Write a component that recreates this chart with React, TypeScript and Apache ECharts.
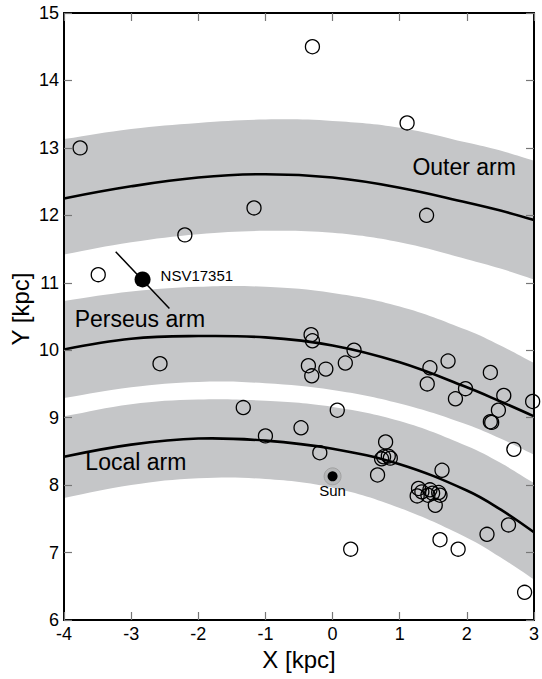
import React, { useEffect, useRef } from "react";
import * as echarts from "echarts";

// Axis ranges / ticks
const xMin = -4;
const xMax = 3;
const yMin = 6;
const yMax = 15;
const tickStep = 1;

// Spiral arm geometry
const armX = [-4, -3, -2, -1, 0, 1, 2, 2.5, 3];
const outerCenter = [12.25, 12.43, 12.56, 12.61, 12.56, 12.41, 12.19, 12.07, 11.93];
const outerUpper = [13.13, 13.28, 13.37, 13.42, 13.4, 13.3, 13.08, 12.96, 12.81];
const outerLower = [11.42, 11.6, 11.72, 11.77, 11.74, 11.6, 11.35, 11.21, 11.05];
const perseusCenter = [10.01, 10.17, 10.21, 10.19, 10.07, 9.82, 9.45, 9.24, 9.02];
const perseusUpper = [10.73, 10.87, 10.94, 10.94, 10.85, 10.65, 10.3, 10.07, 9.81];
const perseusLower = [9.29, 9.45, 9.53, 9.51, 9.41, 9.21, 8.9, 8.69, 8.45];
const localCenter = [8.42, 8.6, 8.69, 8.66, 8.54, 8.31, 7.92, 7.64, 7.3];
const localUpper = [9.02, 9.2, 9.27, 9.25, 9.16, 8.95, 8.58, 8.33, 8.03];
const localLower = [7.81, 8.0, 8.1, 8.09, 7.96, 7.66, 7.22, 6.93, 6.6];

// Sources (open circles)
const srcX = [
  -0.3, 1.11, -3.76, -1.17, -2.2, 1.4, -3.49,
  -0.32, -0.3, 0.32, -2.57, -0.36, -0.31, -0.1, 0.19, 1.45, 1.41, 1.72, 1.98, 1.83,
  2.35, 2.55, 2.47, 2.35, 2.37, 2.98, 2.7,
  -1.33, 0.07, -1.0, -0.47, -0.19, 0.79, 0.76, 0.83, 0.86, 0.73, 0.67, 1.63,
  1.28, 1.26, 1.33, 1.45, 1.49, 1.58, 1.6, 1.53, 1.42,
  1.6, 1.87, 0.27, 2.3, 2.62, 2.86,
];
const srcY = [
  14.5, 13.37, 13.0, 12.11, 11.71, 12.0, 11.12,
  10.23, 10.14, 10.0, 9.8, 9.77, 9.62, 9.72, 9.81, 9.74, 9.5, 9.84, 9.43, 9.28,
  9.67, 9.33, 9.11, 8.94, 8.93, 9.24, 8.53,
  9.15, 9.11, 8.73, 8.85, 8.48, 8.64, 8.42, 8.43, 8.4, 8.39, 8.15, 8.22,
  7.95, 7.84, 7.9, 7.93, 7.88, 7.89, 7.85, 7.7, 7.85,
  7.19, 7.05, 7.05, 7.27, 7.41, 6.41,
];

// Sun
const sunX = [0];
const sunY = [8.13];

// NSV17351 and its error segment
const nsvX = [-2.83];
const nsvY = [11.05];
const nsvBarX = [-3.23, -2.43];
const nsvBarY = [11.46, 10.62];

// Arm labels
const armLabelNames = ["Outer arm", "Perseus arm", "Local arm"];
const armLabelX = [1.96, -2.87, -2.93];
const armLabelY = [12.71, 10.47, 8.35];

const FONT = "'Liberation Sans', Arial, Helvetica, sans-serif";
const GRAY = "#c5c6c8";
const SMOOTH = 0.4;

const zip = (xs: number[], ys: number[]) => xs.map((x, i) => [x, ys[i]]);

// Band polygon between upper and lower edge, built through the axis scales.
const bandSeries = (upper: number[], lower: number[]) => ({
  type: "custom",
  coordinateSystem: "cartesian2d",
  data: [[armX[0], upper[0]]],
  silent: true,
  z: 1,
  renderItem: (_params: any, api: any) => {
    const top = armX.map((x, i) => api.coord([x, upper[i]]));
    const bot = armX.map((x, i) => api.coord([x, lower[i]])).reverse();
    const n = top.length;
    // duplicate the four corners so the smoothed outline keeps sharp corners
    const pts = [top[0], ...top, top[n - 1], bot[0], ...bot, bot[n - 1]];
    return {
      type: "polygon",
      shape: { points: pts, smooth: SMOOTH },
      style: { fill: GRAY, stroke: "none" },
    };
  },
});

const centerSeries = (ys: number[]) => ({
  type: "custom",
  coordinateSystem: "cartesian2d",
  data: [[armX[0], ys[0]]],
  silent: true,
  z: 2,
  renderItem: (_params: any, api: any) => {
    const pts = armX.map((x, i) => api.coord([x, ys[i]]));
    return {
      type: "polyline",
      shape: { points: pts, smooth: SMOOTH },
      style: { fill: "none", stroke: "#000", lineWidth: 2.6 },
    };
  },
});

export default function App() {
  const ref = useRef<HTMLDivElement>(null);

  useEffect(() => {
    if (!ref.current) return;
    const chart = echarts.init(ref.current, undefined, { renderer: "svg" });

    const axisCommon = {
      interval: tickStep,
      axisLine: { show: true, onZero: false, lineStyle: { color: "#000", width: 2 } },
      axisTick: { show: true, inside: true, length: 8, lineStyle: { color: "#777", width: 1.2 } },
      splitLine: { show: false },
      z: 10,
    };

    chart.setOption({
      animation: false,
      backgroundColor: "#fff",
      textStyle: { fontFamily: FONT },
      grid: { left: 64, right: 6, top: 13, bottom: 59, containLabel: false },
      xAxis: [
        {
          ...axisCommon,
          type: "value",
          position: "bottom",
          min: xMin,
          max: xMax,
          axisLabel: { show: true, fontSize: 18, color: "#000", margin: 5, fontFamily: FONT },
          name: "X [kpc]",
          nameLocation: "middle",
          nameGap: 16,
          nameTextStyle: { fontSize: 24, color: "#000", fontFamily: FONT },
        },
        {
          ...axisCommon,
          type: "value",
          position: "top",
          min: xMin,
          max: xMax,
          axisLabel: { show: false },
        },
      ],
      yAxis: [
        {
          ...axisCommon,
          type: "value",
          position: "left",
          min: yMin,
          max: yMax,
          axisLabel: { show: true, fontSize: 18, color: "#000", margin: 5, fontFamily: FONT },
        },
        {
          ...axisCommon,
          type: "value",
          position: "right",
          min: yMin,
          max: yMax,
          axisLabel: { show: false },
        },
      ],
      graphic: [
        {
          type: "text",
          x: 20,
          y: 309,
          rotation: Math.PI / 2,
          style: {
            text: "Y [kpc]",
            fontSize: 24,
            fontFamily: FONT,
            fill: "#000",
            align: "center",
            verticalAlign: "middle",
          },
        },
      ],
      series: [
        bandSeries(outerUpper, outerLower),
        bandSeries(perseusUpper, perseusLower),
        bandSeries(localUpper, localLower),
        centerSeries(outerCenter),
        centerSeries(perseusCenter),
        centerSeries(localCenter),
        {
          type: "scatter",
          z: 5,
          data: zip(srcX, srcY),
          symbol: "circle",
          symbolSize: 14,
          silent: true,
          itemStyle: { color: "rgba(0,0,0,0)", borderColor: "#000", borderWidth: 1.3, opacity: 1 },
        },
        {
          type: "line",
          z: 5,
          data: zip(nsvBarX, nsvBarY),
          symbol: "none",
          silent: true,
          lineStyle: { width: 1.5, color: "#000" },
        },
        {
          type: "scatter",
          z: 6,
          data: zip(nsvX, nsvY),
          symbol: "circle",
          symbolSize: 16,
          silent: true,
          itemStyle: { color: "#000", opacity: 1 },
          label: {
            show: true,
            formatter: "NSV17351",
            position: "right",
            distance: 10,
            offset: [0, -4],
            fontSize: 15,
            color: "#000",
            opacity: 1,
            fontFamily: FONT,
          },
        },
        {
          type: "scatter",
          z: 6,
          data: zip(sunX, sunY),
          symbol: "circle",
          symbolSize: 17,
          silent: true,
          itemStyle: { color: "rgba(150,150,150,0.3)", borderColor: "#999", borderWidth: 0.8, opacity: 1 },
          label: {
            show: true,
            formatter: "Sun",
            position: "bottom",
            distance: -2,
            fontSize: 15,
            color: "#000",
            opacity: 1,
            fontFamily: FONT,
          },
        },
        {
          type: "scatter",
          z: 7,
          data: zip(sunX, sunY),
          symbol: "circle",
          symbolSize: 10,
          silent: true,
          itemStyle: { color: "#000", opacity: 1 },
        },
        {
          type: "scatter",
          z: 8,
          data: armLabelNames.map((n, i) => ({ value: [armLabelX[i], armLabelY[i]], name: n })),
          symbolSize: 0,
          silent: true,
          itemStyle: { opacity: 1 },
          label: {
            show: true,
            formatter: (p: any) => p.name,
            position: "inside",
            fontSize: 23,
            color: "#000",
            opacity: 1,
            fontFamily: FONT,
          },
        },
      ],
    });

    return () => chart.dispose();
  }, []);

  return (
    <div
      ref={ref}
      style={{ position: "fixed", left: 0, top: 0, width: 542, height: 679, background: "#fff" }}
    />
  );
}
